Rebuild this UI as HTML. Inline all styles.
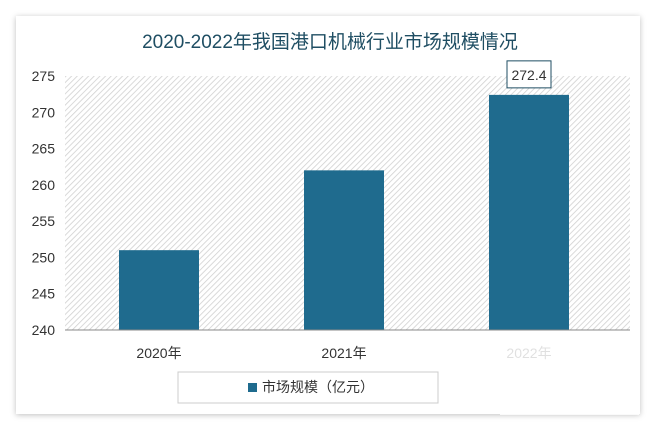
<!DOCTYPE html>
<html><head><meta charset="utf-8"><style>
body{margin:0;width:659px;height:432px;background:#fff;overflow:hidden;font-family:"Liberation Sans","Noto Sans CJK SC",sans-serif}
</style></head><body>
<svg width="659" height="432">
<defs>
<pattern id="h" width="4" height="4" patternUnits="userSpaceOnUse" patternTransform="rotate(45)"><rect width="4" height="4" fill="#fff"/><line x1="0" y1="0" x2="0" y2="4" stroke="#d0d0d0" stroke-width="1.6"/></pattern>
<filter id="s" x="-5%" y="-5%" width="110%" height="110%"><feDropShadow dx="0" dy="1" stdDeviation="3" flood-color="#000" flood-opacity="0.25"/></filter>
</defs>
<rect x="16" y="16" width="624" height="398" fill="#fff" filter="url(#s)"/>
<text x="330" y="48" text-anchor="middle" font-size="19" fill="#1f4e63" font-family="'Liberation Sans Narrow','Liberation Sans','Noto Sans CJK SC',sans-serif">2020-2022年我国港口机械行业市场规模情况</text>
<rect x="65" y="76" width="565" height="254" fill="url(#h)"/>
<g id="yt"></g><g id="bars"></g><g id="xl"></g>
<line x1="65" y1="330" x2="630" y2="330" stroke="#888"/>
<rect x="178" y="372" width="260" height="31" fill="#fff" stroke="#ccc"/>
<rect x="248" y="383" width="9" height="9" fill="#1f6b8e"/>
<text x="262" y="392" font-size="14" fill="#333">市场规模（亿元）</text>
<rect x="500" y="340" width="139" height="75" fill="#fff" opacity="0.85"/>
</svg>
<script>
const categories=["2020年","2021年","2022年"];
const values=[251,262,272.4];
const ticks=[240,245,250,255,260,265,270,275];
const labels=[null,null,"272.4"];
const NS="http://www.w3.org/2000/svg";
const y=v=>330-(v-240)*(254/35);
const x=i=>159+185*i;
function mk(t,a,p){const e=document.createElementNS(NS,t);for(const k in a)e.setAttribute(k,a[k]);p.appendChild(e);return e;}
const yt=document.getElementById('yt'),bars=document.getElementById('bars'),xl=document.getElementById('xl');
ticks.forEach(t=>{const e=mk('text',{x:55,y:y(t)+5,'text-anchor':'end','font-size':14,fill:'#333'},yt);e.textContent=t;

});
values.forEach((v,i)=>{const r=mk('rect',{x:x(i)-40,y:y(v),width:80,height:330-y(v),fill:'#1f6b8e'},bars);


const t=mk('text',{x:x(i),y:358,'text-anchor':'middle','font-size':14,fill:'#333'},xl);t.textContent=categories[i];


if(labels[i]){const b=mk('rect',{x:x(i)-22,y:y(v)-34,width:44,height:27,fill:'#fff',stroke:'#1f4e63'},bars);


const l=mk('text',{x:x(i),y:y(v)-15,'text-anchor':'middle','font-size':14,fill:'#333'},bars);l.textContent=labels[i];

}});
</script>
</body></html>
